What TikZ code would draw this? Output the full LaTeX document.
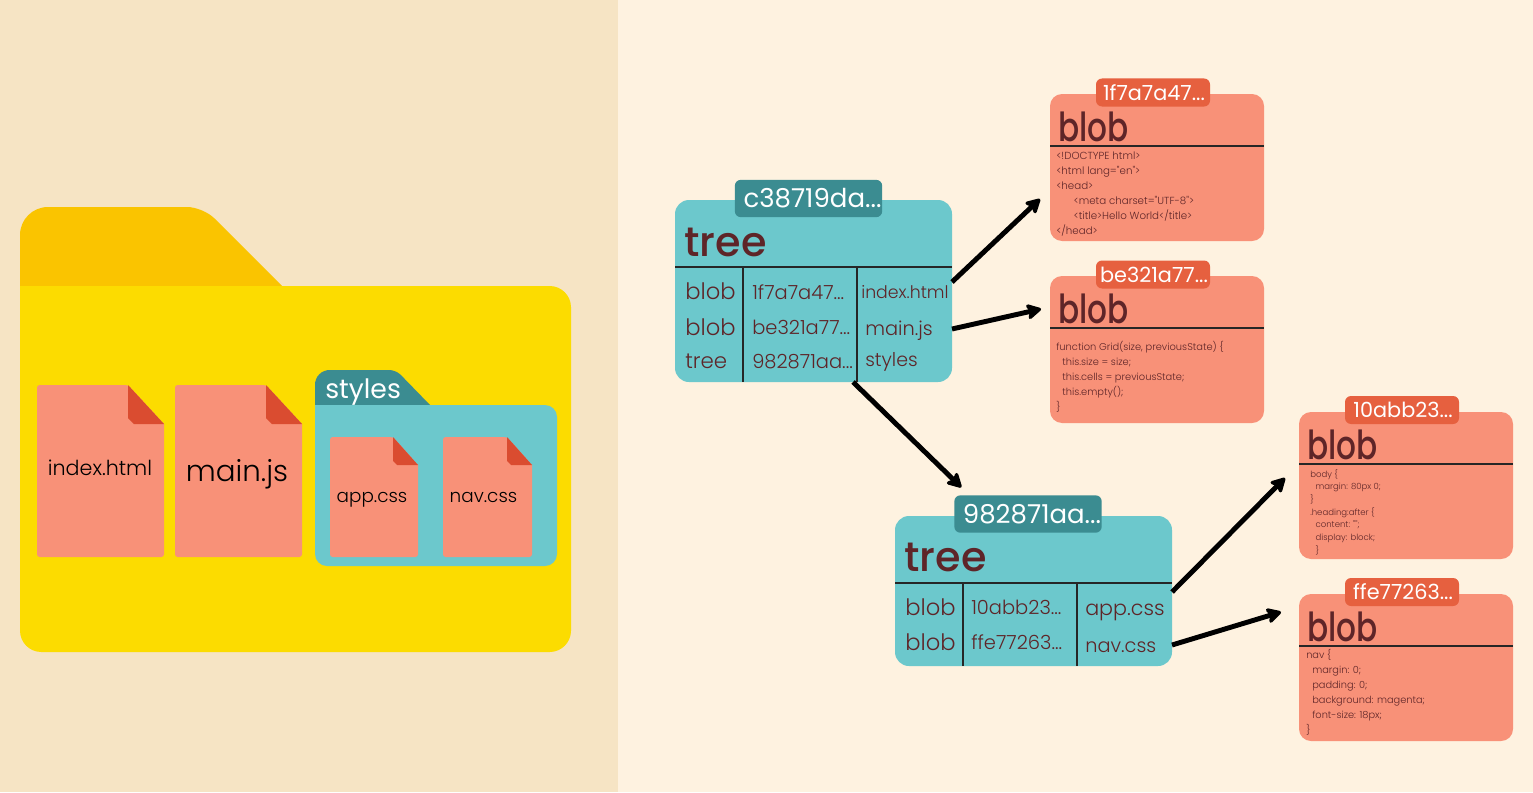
\documentclass[tikz,border=0pt]{standalone}
\usepackage{fontspec}
\usetikzlibrary{arrows.meta,calc}
\setmainfont{Poppins}
\newfontfamily\lite[UprightFont=* Light]{Poppins}
\newfontfamily\med[UprightFont=* Medium]{Poppins}
\newfontfamily\blobf[UprightFont=* Medium,FakeStretch=0.78]{Poppins}
\newfontfamily\codef[UprightFont=* Light]{Poppins}
\definecolor{bgL}{HTML}{F6E4C4}
\definecolor{bgR}{HTML}{FEF2E0}
\definecolor{fold}{HTML}{FCDC00}
\definecolor{tabc}{HTML}{FAC400}
\definecolor{coral}{HTML}{F89178}
\definecolor{fcorn}{HTML}{DA4C30}
\definecolor{tagc}{HTML}{E6603F}
\definecolor{teal}{HTML}{6CC8CC}
\definecolor{dteal}{HTML}{3B8C91}
\definecolor{txt}{HTML}{5E2528}
\newcommand{\fs}[1]{\fontsize{#1}{#1}\selectfont}
\tikzset{
 x=0.75pt,y=-0.75pt,
 treecard/.style={fill=teal,rounded corners=10.5pt,inner sep=0,outer sep=0,minimum width=207.75pt,text width=0pt},
 blobcard/.style={fill=coral,rounded corners=9pt,inner sep=0,outer sep=0,minimum width=160.5pt,minimum height=110.25pt},
 hashtag/.style={rounded corners=4.5pt,inner sep=0,outer sep=0,minimum height=28pt,text=white,font=\fs{19.5}},
 blobtag/.style={hashtag,fill=tagc,minimum width=85.5pt,minimum height=21pt,font=\fs{15.6}},
 treetag/.style={hashtag,fill=dteal,minimum width=110.5pt},
 head/.style={anchor=base west,inner sep=0,text=txt,text depth=0pt,font=\med\fs{31}},
 bloblabel/.style={head,font=\blobf\fs{30}},
 cell/.style={anchor=base west,inner sep=0,text=txt,font=\lite\fs{17}},
 cellb/.style={anchor=base west,inner sep=0,text=txt,font=\lite\fs{14.6}},
 code/.style={anchor=north west,inner sep=0,align=left,text=txt,font=\codef\fontsize{7.7}{11.25}\selectfont},
 rule/.style={line width=1pt,draw=black!85},
 link/.style={line width=3.7pt,-{Stealth[length=13pt,width=14pt,inset=3pt,round]}},
 fname/.style={inner sep=0,text=black,font=\lite},
 sheet/.style={fill=coral,rounded corners=2pt},
 corner/.style={fill=fcorn},
}
\begin{document}
\begin{tikzpicture}
\useasboundingbox (0,0) rectangle (1533,792);
\fill[bgR] (0,0) rectangle (1533,792);
\fill[bgL] (0,0) rectangle (618,792);
% big folder
\fill[tabc] (20,290) [rounded corners=21pt] -- (20,207) [rounded corners=12pt] -- (203,207) [sharp corners] -- (283,287) -- cycle;
\fill[fold] (20,286) [rounded corners=16pt] -- (571,286) -- (571,652) -- (20,652) [sharp corners] -- cycle;
% files
\fill[sheet] (37,385) -- (128,385) [sharp corners] -- (164,424) [rounded corners=2pt] -- (164,557) -- (37,557) -- cycle;
\fill[corner] (128,385) -- (164,424) -- (134,424) -- (128,418) -- cycle;
\node[fname,font=\lite\fs{15.5}] (f1) at (100,468) {index.html};
\fill[sheet] (175,385) -- (266,385) [sharp corners] -- (302,424) [rounded corners=2pt] -- (302,557) -- (175,557) -- cycle;
\fill[corner] (266,385) -- (302,424) -- (272,424) -- (266,418) -- cycle;
\node[fname,font=\lite\fs{22}] (f2) at (237,474) {main.js};
% styles folder
\fill[dteal] (315,408) [rounded corners=11pt] -- (315,370) [rounded corners=5pt] -- (396,370) [sharp corners] -- (430,405) -- cycle;
\fill[teal] (315,405) [rounded corners=9pt] -- (557,405) -- (557,566) -- (315,566) [sharp corners] -- cycle;
\node[anchor=base west,inner sep=0,text=white,font=\fs{20}] (f3) at (325,398) {styles};
\fill[sheet] (330,437) -- (393,437) [sharp corners] -- (418,465) [rounded corners=2pt] -- (418,557) -- (330,557) -- cycle;
\fill[corner] (393,437) -- (418,465) -- (397,465) -- (393,461) -- cycle;
\node[fname,font=\lite\fs{13.8}] (f4) at (372,500) {app.css};
\fill[sheet] (443,437) -- (507,437) [sharp corners] -- (532,465) [rounded corners=2pt] -- (532,557) -- (443,557) -- cycle;
\fill[corner] (507,437) -- (532,465) -- (511,465) -- (507,461) -- cycle;
\node[fname,font=\lite\fs{13.8}] (f5) at (483.5,497) {nav.css};
% tree 1
\node[treecard,minimum height=136.5pt] (tree1) at (813.5,291) {};
\node[treetag] (tag1) at (808.5,198.5) {\hspace*{6pt}c38719da...};
\node[head] (h1) at (684,256) {tree};
\draw[rule] ($(tree1.north west)+(0,67)$) -- ($(tree1.north east)+(0,67)$);
\draw[rule] ($(tree1.north west)+(68,67)$) -- ($(tree1.south west)+(68,0)$);
\draw[rule] ($(tree1.north west)+(182,67)$) -- ($(tree1.south west)+(182,0)$);
\node[cell] (a1) at (685,299) {blob};
\node[cell] (a2) at (685,335) {blob};
\node[cell,font=\lite\fs{16}] (a3) at (685,368) {tree};
\node[cellb] (b1) at (752,299) {1f7a7a47...};
\node[cellb] (b2) at (752,334) {be321a77...};
\node[cellb] (b3) at (752,368) {982871aa...};
\node[cellb,font=\lite\fs{13}] (c1) at (861,298) {index.html};
\node[cell,font=\lite\fs{14.5}] (c2) at (865,335) {main.js};
\node[cell,font=\lite\fs{14.2}] (c3) at (865,366) {styles};
% tree 2
\node[treecard,minimum height=112.5pt] (tree2) at (1033.5,591) {};
\node[treetag] (tag2) at (1028,514) {\hspace*{6pt}982871aa...};
\node[head] (h2) at (904,571) {tree};
\draw[rule] ($(tree2.north west)+(0,67)$) -- ($(tree2.north east)+(0,67)$);
\draw[rule] ($(tree2.north west)+(68,67)$) -- ($(tree2.south west)+(68,0)$);
\draw[rule] ($(tree2.north west)+(182,67)$) -- ($(tree2.south west)+(182,0)$);
\node[cell] (d1) at (905,615) {blob};
\node[cell] (d2) at (905,650) {blob};
\node[cellb] (e1) at (971,614) {10abb23...};
\node[cellb] (e2) at (971,649) {ffe77263...};
\node[cell,font=\lite\fs{15.5}] (g1) at (1085,615) {app.css};
\node[cell,font=\lite\fs{14.5}] (g2) at (1085,652) {nav.css};
% blobs
\node[blobcard] (blob1) at (1157,167.5) {};
\node[blobtag] (t1) at (1153,92.5) {\hspace*{1.5pt}1f7a7a47...};
\node[bloblabel] (bh1) at (1058,141) {blob};
\draw[rule] ($(blob1.north west)+(0,52)$) -- ($(blob1.north east)+(0,52)$);
\node[code] (k1) at (1056,151.5) {<!DOCTYPE html>\\<html lang="en">\\<head>\\\hspace*{13pt}<meta charset="UTF-8">\\\hspace*{13pt}<title>Hello World</title>\\</head>};
\node[blobcard] (blob2) at (1157,349.5) {};
\node[blobtag] (t2) at (1153,274.5) {\hspace*{1.5pt}be321a77...};
\node[bloblabel] (bh2) at (1058,323) {blob};
\draw[rule] ($(blob2.north west)+(0,52)$) -- ($(blob2.north east)+(0,52)$);
\node[code,font=\codef\fontsize{7.4}{11.25}\selectfont] (k2) at (1056,341) {function Grid(size, previousState) \{\\\hspace*{4.5pt}this.size = size;\\\hspace*{4.5pt}this.cells = previousState;\\\hspace*{4.5pt}this.empty();\\\}};
\node[blobcard] (blob3) at (1406,485.5) {};
\node[blobtag] (t3) at (1402,410) {\hspace*{1.5pt}10abb23...};
\node[bloblabel] (bh3) at (1307,459) {blob};
\draw[rule] ($(blob3.north west)+(0,52)$) -- ($(blob3.north east)+(0,52)$);
\node[code,font=\codef\fontsize{6.4}{9.5}\selectfont] (k3) at (1310,469) {body \{\\\hspace*{4pt}margin: 80px 0;\\\}\\.heading:after \{\\\hspace*{4pt}content: "";\\\hspace*{4pt}display: block;\\\hspace*{4pt}\}};
\node[blobcard] (blob4) at (1406,667.5) {};
\node[blobtag] (t4) at (1402,592) {\hspace*{1.5pt}ffe77263...};
\node[bloblabel] (bh4) at (1307,641) {blob};
\draw[rule] ($(blob4.north west)+(0,52)$) -- ($(blob4.north east)+(0,52)$);
\node[code,font=\codef\fontsize{7.35}{11.25}\selectfont] (k4) at (1306,649) {nav \{\\\hspace*{4.5pt}margin: 0;\\\hspace*{4.5pt}padding: 0;\\\hspace*{4.5pt}background: magenta;\\\hspace*{4.5pt}font-size: 18px;\\\}};
% links
\draw[link] ($(tree1.east)+(0,-9)$) -- ($(blob1.west)+(-10,31.5)$);
\draw[link] ($(tree1.east)+(0,38)$) -- ($(blob2.west)+(-9,-40.5)$);
\draw[link] ($(tree1.south)+(39.5,0)$) -- ($(tag2.north west)+(7,-8)$);
\draw[link] ($(tree2.east)+(0,1)$) -- ($(blob3.west)+(-14,-7.5)$);
\draw[link] ($(tree2.east)+(0,54)$) -- ($(blob4.west)+(-18,-55.5)$);
\end{tikzpicture}
\end{document}
